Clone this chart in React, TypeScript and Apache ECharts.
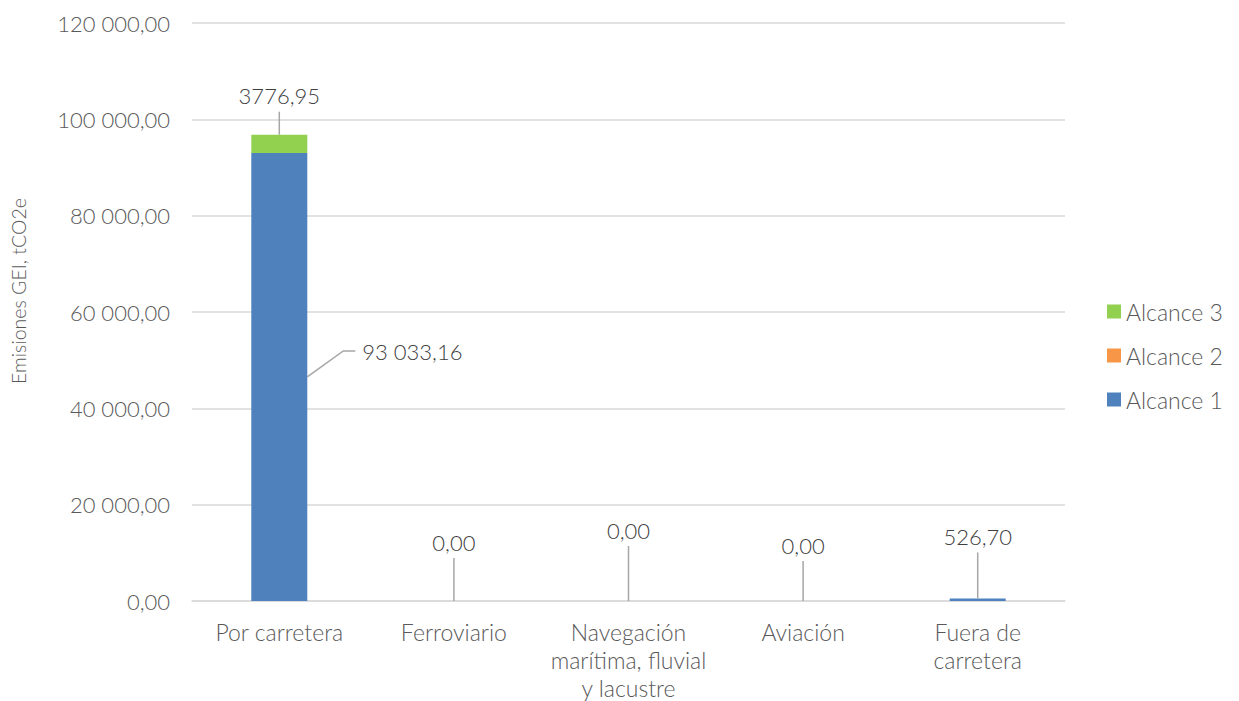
import React, { useEffect, useRef } from "react";
import * as echarts from "echarts";

// Categories and series values (tCO2e)
const categories = [
  "Por carretera",
  "Ferroviario",
  "Navegación\nmarítima, fluvial\ny lacustre",
  "Aviación",
  "Fuera de\ncarretera",
];
const alcance1 = [93033.16, 0, 0, 0, 526.7];
const alcance2 = [0, 0, 0, 0, 0];
const alcance3 = [3776.95, 0, 0, 0, 0];

// Which points carry a value callout
const labeled1 = [true, true, true, true, true];
const labeled3 = [true, false, false, false, false];

// Y axis range and step
const yMin = 0;
const yMax = 120000;
const yStep = 20000;
const yTitle = "Emisiones GEI, tCO2e";

const FONT = "Lato, 'Open Sans', sans-serif";
const TEXT = "#595959";
const LABEL_TEXT = "#404040";
const GUIDE = "#A6A6A6";
const BAR_W = 56;

// Spanish-style number: space thousands separator only from 5 digits, comma decimals
function fmt(v: number): string {
  const fixed = Math.abs(v).toFixed(2);
  let [int, dec] = fixed.split(".");
  if (int.length >= 5) {
    int = int.replace(/\B(?=(\d{3})+(?!\d))/g, " ");
  }
  return (v < 0 ? "-" : "") + int + "," + dec;
}

// Vertical distance (px) from a segment top to its callout's text centre, per category
const riseAbove = [39, 59, 71, 56, 62];

// Callout records: [category, segment bottom, segment top, value, side (1) / above (0)]
function buildCallouts(): number[][] {
  const out: number[][] = [];
  categories.forEach((_, i) => {
    const b1 = 0;
    const t1 = alcance1[i];
    const t2 = t1 + alcance2[i];
    const t3 = t2 + alcance3[i];
    if (labeled1[i]) out.push([i, b1, t1, alcance1[i], i === 0 ? 1 : 0]);
    if (labeled3[i]) out.push([i, t2, t3, alcance3[i], 0]);
  });
  return out;
}

export default function App() {
  const ref = useRef<HTMLDivElement>(null);

  useEffect(() => {
    if (!ref.current) return;
    const chart = echarts.init(ref.current, undefined, { renderer: "svg" });
    const callouts = buildCallouts();

    const labelFont = {
      fontFamily: FONT,
      fontSize: 22,
      fontWeight: 300,
      fill: LABEL_TEXT,
    };

    chart.setOption({
      animation: false,
      textStyle: { fontFamily: FONT },
      grid: {
        left: 192,
        right: 174,
        top: 23,
        bottom: 100,
        containLabel: false,
        outerBoundsMode: "none",
      },
      graphic: [
        {
          // Vertical axis title
          type: "text",
          x: 18,
          y: 291,
          rotation: Math.PI / 2,
          style: {
            text: yTitle,
            fontFamily: FONT,
            fontSize: 19.5,
            fontWeight: 300,
            fill: TEXT,
            align: "center",
            verticalAlign: "middle",
          },
        },
      ],
      legend: {
        orient: "vertical",
        left: 1107,
        top: 300,
        padding: 0,
        itemWidth: 14,
        itemHeight: 14,
        itemGap: 21,
        icon: "rect",
        data: ["Alcance 3", "Alcance 2", "Alcance 1"],
        textStyle: {
          fontFamily: FONT,
          fontSize: 23,
          fontWeight: 300,
          color: TEXT,
        },
      },
      xAxis: {
        type: "category",
        data: categories,
        axisTick: { show: false },
        axisLine: { lineStyle: { color: "#D9D9D9", width: 1.5 } },
        axisLabel: {
          fontFamily: FONT,
          fontSize: 23,
          fontWeight: 300,
          color: TEXT,
          lineHeight: 28,
          margin: 17,
          interval: 0,
        },
      },
      yAxis: {
        type: "value",
        min: yMin,
        max: yMax,
        interval: yStep,
        axisLine: { show: false },
        axisTick: { show: false },
        splitLine: { lineStyle: { color: "#D9D9D9", width: 1.5 } },
        axisLabel: {
          fontFamily: FONT,
          fontSize: 22,
          fontWeight: 300,
          color: TEXT,
          margin: 22,
          formatter: (v: number) => fmt(v),
        },
      },
      series: [
        {
          name: "Alcance 1",
          type: "bar",
          stack: "total",
          barWidth: BAR_W,
          itemStyle: { color: "#4F81BD" },
          data: alcance1,
        },
        {
          name: "Alcance 2",
          type: "bar",
          stack: "total",
          barWidth: BAR_W,
          itemStyle: { color: "#F79646" },
          data: alcance2,
        },
        {
          name: "Alcance 3",
          type: "bar",
          stack: "total",
          barWidth: BAR_W,
          itemStyle: { color: "#92D050" },
          data: alcance3,
        },
        {
          // Value callouts with leader lines, positioned from the axis scales
          name: "callouts",
          type: "custom",
          silent: true,
          z: 10,
          data: callouts,
          encode: { x: 0, y: 2 },
          renderItem: (params: any, api: any) => {
            const ci = api.value(0);
            const lo = api.value(1);
            const hi = api.value(2);
            const val = api.value(3);
            const side = api.value(4);
            const lineStyle = { stroke: GUIDE, lineWidth: 1.5, fill: "none" };
            if (side === 1) {
              const p = api.coord([ci, (lo + hi) / 2]);
              const right = p[0] + BAR_W / 2;
              const y = p[1];
              return {
                type: "group",
                children: [
                  {
                    type: "polyline",
                    shape: {
                      points: [
                        [right, y],
                        [right + 36, y - 26],
                        [right + 48, y - 26],
                      ],
                    },
                    style: lineStyle,
                  },
                  {
                    type: "text",
                    x: right + 55,
                    y: y - 25,
                    style: {
                      ...labelFont,
                      text: fmt(val),
                      align: "left",
                      verticalAlign: "middle",
                    },
                  },
                ],
              };
            }
            const p = api.coord([ci, hi]);
            const rise = riseAbove[ci];
            const ly = p[1] - rise;
            return {
              type: "group",
              children: [
                {
                  type: "line",
                  shape: { x1: p[0], y1: p[1], x2: p[0], y2: ly + 16 },
                  style: lineStyle,
                },
                {
                  type: "text",
                  x: p[0],
                  y: ly,
                  style: {
                    ...labelFont,
                    text: fmt(val),
                    align: "center",
                    verticalAlign: "middle",
                  },
                },
              ],
            };
          },
        },
      ],
    });

    return () => chart.dispose();
  }, []);

  return (
    <div
      ref={ref}
      style={{ width: 1239, height: 701, marginTop: -8, marginLeft: -8 }}
    />
  );
}
